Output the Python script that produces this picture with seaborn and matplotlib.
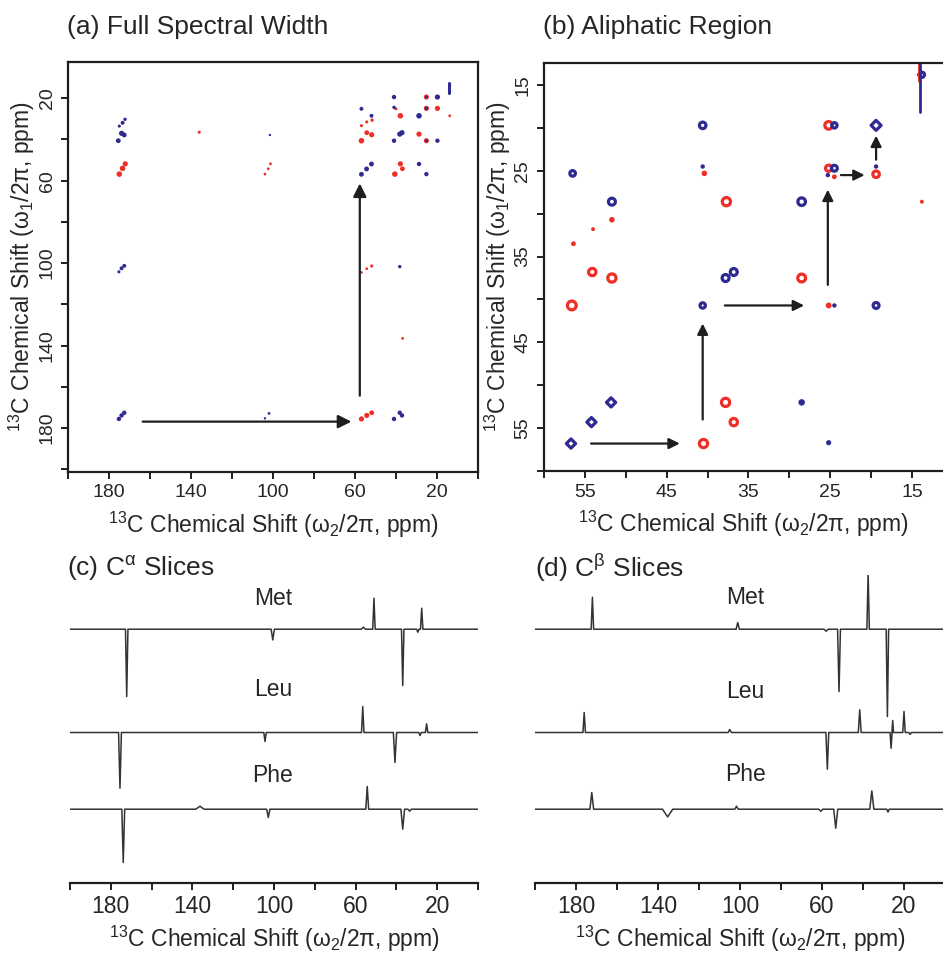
import numpy as np
import pandas as pd
import matplotlib
matplotlib.use("Agg")
import matplotlib.pyplot as plt
import seaborn as sns
from matplotlib.ticker import FixedLocator, NullFormatter

# ---------- data: panel (a) cross peaks (w2 ppm, w1 ppm, sign, marker size) ----------
a_x = [172.2, 173.5, 175.1, 136.1, 101.3, 102.4, 104.0,
       51.7, 54.3, 56.9, 54.3, 51.9, 56.9, 40.1, 37.9, 37.9, 36.9, 40.6,
       28.8, 25.2, 25.2, 25.2, 19.8, 13.8,
       56.9, 54.3, 51.9, 36.8, 51.9, 54.3, 56.9,
       172.3, 173.5, 175.1, 174.0, 172.7, 175.6, 101.6,
       56.9, 52.0, 52.0, 54.4, 56.9, 41.0, 41.0, 38.2, 37.1, 41.0,
       28.8, 28.8, 25.2, 19.8, 19.8, 25.2, 25.2, 25.2,
       172.7, 174.0, 175.3, 38.2,
       172.7, 174.0, 175.3, 102.0, 104.0, 41.0, 38.2, 37.1]
a_y = [51.8, 54.0, 56.8, 36.5, 51.8, 54.2, 56.8,
       30.6, 31.5, 33.3, 36.7, 37.7, 40.6, 25.1, 28.5, 51.8, 54.2, 56.8,
       37.4, 40.6, 19.4, 24.9, 24.9, 28.5,
       104.5, 102.7, 101.4, 136.5, 172.6, 173.9, 175.6,
       30.2, 31.9, 33.5, 37.0, 37.8, 40.6, 37.8,
       25.1, 28.5, 51.9, 54.3, 56.9, 19.4, 24.4, 37.4, 36.7, 40.6,
       28.5, 51.9, 56.8, 19.4, 40.6, 19.4, 24.9, 40.6,
       101.3, 102.5, 104.2, 101.7,
       172.6, 173.9, 175.6, 172.9, 175.3, 175.6, 172.6, 173.9]
a_sign = ["pos"] * 31 + ["neg"] * 37
a_size = [14, 16, 16, 5, 4, 4, 4,
          6, 5, 5, 12, 14, 16, 5, 16, 14, 12, 16,
          14, 14, 14, 14, 14, 4,
          4, 4, 5, 4, 12, 14, 14,
          6, 8, 5, 14, 12, 12, 3,
          8, 8, 12, 12, 12, 10, 6, 14, 14, 10,
          16, 10, 10, 14, 10, 4, 6, 4,
          8, 8, 5, 6,
          10, 10, 10, 4, 3, 10, 10, 10]
a_diag_x = [14.1, 14.1]          # diagonal streak at top right
a_diag_y = [12.7, 17.5]
a_arrows = [((163.7, 176.9), (61.8, 176.9)), ((57.7, 164.3), (57.7, 61.3))]

# ---------- data: panel (b) aliphatic region ----------
b_x = [54.1, 51.7, 37.7, 28.5, 25.2, 25.2, 19.4, 56.6, 40.5, 37.8, 36.8,
       51.7, 54.0, 56.4, 40.4, 24.5, 25.2, 13.8, 14.2,
       56.5, 51.7, 40.6, 28.5, 24.5, 24.5, 40.6, 19.4, 37.8, 36.8, 13.8,
       19.4, 51.8, 54.2, 56.7,
       40.6, 25.3, 19.4, 25.2, 24.5, 28.5]
b_y = [36.8, 37.5, 28.6, 37.5, 19.7, 24.7, 25.4, 40.7, 56.8, 52.0, 54.3,
       30.7, 31.8, 33.5, 25.3, 25.7, 40.7, 28.6, 13.8,
       25.3, 28.6, 19.7, 28.6, 19.7, 24.7, 40.7, 40.7, 37.5, 36.8, 13.8,
       19.7, 52.0, 54.3, 56.8,
       24.5, 25.5, 24.5, 56.7, 40.7, 52.0]
b_sign = ["pos"] * 19 + ["neg"] * 21
b_kind = (["ring"] * 11 + ["dot"] * 8 + ["ring"] * 11 + ["diamond"] * 4
          + ["dot"] * 6)
b_size = [28, 35, 35, 32, 30, 20, 22, 40, 35, 35, 28,
          16, 8, 12, 16, 12, 18, 8, 8,
          16, 25, 22, 30, 15, 18, 15, 18, 25, 25, 14,
          26, 22, 22, 22,
          10, 10, 10, 14, 10, 22]
b_diag_x = [14.0, 14.0]
b_diag_y = [12.4, 18.1]
b_arrows = [((54.25, 56.8), (43.4, 56.8)), ((40.6, 54.0), (40.6, 42.8)),
            ((37.9, 40.7), (28.2, 40.7)), ((25.3, 38.3), (25.3, 27.2)),
            ((23.7, 25.5), (20.8, 25.5)), ((19.4, 23.7), (19.4, 20.9))]

# ---------- data: 1D slices (ppm, intensity, half width) ----------
slice_names = ["Met", "Leu", "Phe"]
slice_offset = [253.5, 150.2, 73.5]

ca_ppm = [[172.2, 100.6, 56.2, 51.0, 36.9, 29.5, 27.6],
          [175.5, 104.4, 56.5, 40.7, 28.4, 25.2],
          [173.9, 136.3, 102.8, 54.3, 36.9, 33.5]]
ca_int = [[-67.4, -10.7, 2, 31, -56.4, -3, 21],
          [-55.7, -9, 26, -30, -3, 8.7],
          [-53.3, 3, -8.3, 22.7, -20, -2]]
ca_wid = [[0.6, 0.8, 1.0, 0.6, 0.6, 0.6, 0.6],
          [0.7, 0.6, 0.6, 0.8, 0.6, 0.6],
          [0.7, 2.0, 0.8, 0.7, 0.9, 0.8]]

cb_ppm = [[172.0, 101.1, 58.0, 51.7, 37.5, 28.1],
          [176.0, 105.0, 57.4, 41.6, 26.3, 25.5, 20.0, 17.0],
          [172.3, 135.3, 101.7, 60.6, 53.3, 35.7, 27.8]]
cb_int = [[32, 6.7, -2, -62.4, 56, -87.4],
          [20, 3, -36.7, 22.7, -15.7, 12, 21, -2],
          [16.7, -7.7, 3, -2, -19, 18.3, -3]]
cb_wid = [[0.6, 0.8, 1.0, 0.7, 0.6, 0.6],
          [0.6, 0.8, 0.7, 0.7, 0.5, 0.4, 0.6, 0.6],
          [0.9, 2.5, 0.8, 1.0, 1.0, 1.0, 0.6]]

XLAB = r"$^{13}$C Chemical Shift (ω$_2$/2π, ppm)"
YLAB = r"$^{13}$C Chemical Shift (ω$_1$/2π, ppm)"

RED = "#ef2f27"
BLUE = "#2e2a92"
INK = "#1e1e1e"

sns.set_style("ticks")
plt.rcParams["font.family"] = ["Liberation Sans", "DejaVu Sans"]
plt.rcParams["mathtext.fontset"] = "custom"
plt.rcParams["mathtext.rm"] = "Liberation Sans"
plt.rcParams["mathtext.it"] = "Liberation Sans:italic"
plt.rcParams["mathtext.bf"] = "Liberation Sans:bold"

W, H = 943, 961
fig = plt.figure(figsize=(W / 100, H / 100), dpi=100)


def px_axes(left, top, right, bottom):
    return fig.add_axes([left / W, 1 - bottom / H, (right - left) / W, (bottom - top) / H])


def set_ticks(ax, axis, labeled, unlabeled, size):
    target = ax.xaxis if axis == "x" else ax.yaxis
    target.set_major_locator(FixedLocator(labeled))
    target.set_minor_locator(FixedLocator(unlabeled))
    target.set_minor_formatter(NullFormatter())
    ax.tick_params(axis=axis, which="both", direction="out", length=5, width=1.4,
                   color=INK, labelsize=size, pad=4)


def style_box(ax):
    for s in ax.spines.values():
        s.set_linewidth(1.6)
        s.set_color(INK)


def draw_arrows(ax, arrows, scale):
    for start, end in arrows:
        ax.annotate("", xy=end, xytext=start,
                    arrowprops=dict(arrowstyle="-|>", color=INK, lw=1.6,
                                    mutation_scale=scale, shrinkA=0, shrinkB=0))


# --- (a) full spectral width ---
ax_a = px_axes(68.3, 62, 478, 471.7)
a_df = pd.DataFrame({"x": a_x, "y": a_y, "sign": a_sign, "size": a_size})
sns.lineplot(x=a_diag_x, y=a_diag_y, color=BLUE, lw=2.2, sort=False,
             estimator=None, ax=ax_a)
for sign, col in [("pos", RED), ("neg", BLUE)]:
    sub = a_df[a_df["sign"] == sign]
    sns.scatterplot(x=sub["x"], y=sub["y"], s=sub["size"].to_list(), color=col,
                    edgecolor="none", linewidth=0, legend=False, ax=ax_a)
draw_arrows(ax_a, a_arrows, 20)
ax_a.set_xlim(200, 0)
ax_a.set_ylim(201.2, 2.4)
set_ticks(ax_a, "x", [180, 140, 100, 60, 20], list(range(0, 201, 40)), 14)
set_ticks(ax_a, "y", [20, 60, 100, 140, 180], list(range(0, 201, 40)), 14)
ax_a.tick_params(axis="y", labelrotation=90)
for t in ax_a.get_yticklabels():
    t.set_va("center")
ax_a.set_xlabel(XLAB, fontsize=16.5, labelpad=6)
ax_a.set_ylabel(YLAB, fontsize=16.5)
ax_a.yaxis.set_label_coords(-0.076, 0.5)
style_box(ax_a)

# --- (b) aliphatic region ---
ax_b = px_axes(544, 63, 943, 471)
b_df = pd.DataFrame({"x": b_x, "y": b_y, "sign": b_sign, "kind": b_kind, "size": b_size})
sns.lineplot(x=[14.1, 14.1], y=[12.4, 14.5], color=RED, lw=2.0, sort=False,
             estimator=None, ax=ax_b)
sns.lineplot(x=b_diag_x, y=b_diag_y, color=BLUE, lw=2.0, sort=False,
             estimator=None, ax=ax_b)
for sign, col in [("pos", RED), ("neg", BLUE)]:
    for kind, mk in [("ring", "o"), ("diamond", "D"), ("dot", "o")]:
        sub = b_df[(b_df["sign"] == sign) & (b_df["kind"] == kind)]
        if sub.empty:
            continue
        if kind == "dot":
            sns.scatterplot(x=sub["x"], y=sub["y"], s=sub["size"].to_list(), color=col,
                            marker=mk, edgecolor="none", linewidth=0,
                            legend=False, ax=ax_b)
        else:
            sns.scatterplot(x=sub["x"], y=sub["y"], s=sub["size"].to_list(), color=col,
                            marker=mk, facecolor="none", edgecolor=col,
                            linewidth=2.3, legend=False, ax=ax_b)
draw_arrows(ax_b, b_arrows, 16)
ax_b.set_xlim(60, 11.22)
ax_b.set_ylim(60.0, 12.43)
set_ticks(ax_b, "x", [55, 45, 35, 25, 15], [60, 50, 40, 30, 20], 14)
set_ticks(ax_b, "y", [15, 25, 35, 45, 55], [20, 30, 40, 50, 60], 14)
ax_b.tick_params(axis="y", labelrotation=90)
for t in ax_b.get_yticklabels():
    t.set_va("center")
ax_b.set_xlabel(XLAB, fontsize=16.5, labelpad=6)
ax_b.set_ylabel(YLAB, fontsize=16.5)
ax_b.yaxis.set_label_coords(-0.077, 0.5)
style_box(ax_b)
ax_b.spines["right"].set_visible(False)


# --- (c), (d) slices ---
def stick_trace(ppm, inten, wid, offset):
    xs, ys = [200.0], [offset]
    for p, h, w in sorted(zip(ppm, inten, wid), key=lambda t: -t[0]):
        xs += [p + w, p, p - w]
        ys += [offset, offset + h, offset]
    xs.append(0.0)
    ys.append(offset)
    return xs, ys


def slice_panel(ax, ppm_sets, int_sets, wid_sets, label_x, label_ys):
    for ppm, inten, wid, off in zip(ppm_sets, int_sets, wid_sets, slice_offset):
        xs, ys = stick_trace(ppm, inten, wid, off)
        sns.lineplot(x=xs, y=ys, sort=False, estimator=None, color="#333333",
                     lw=1.1, ax=ax)
    for name, ly in zip(slice_names, label_ys):
        ax.text(label_x, ly, name, fontsize=16.5, ha="center", va="center")
    ax.set_xlim(200, 0)
    ax.set_ylim(0, 307.7)
    for side in ["left", "top", "right"]:
        ax.spines[side].set_visible(False)
    ax.spines["bottom"].set_linewidth(1.6)
    ax.spines["bottom"].set_color(INK)
    ax.set_yticks([])
    set_ticks(ax, "x", [180, 140, 100, 60, 20], list(range(0, 201, 40)), 16.5)
    ax.set_xlabel(XLAB, fontsize=16.5, labelpad=4)


ax_c = px_axes(70, 575, 478, 882.7)
slice_panel(ax_c, ca_ppm, ca_int, ca_wid, 100.5, [284, 193, 107.5])
ax_d = px_axes(535, 575, 945, 882.7)
slice_panel(ax_d, cb_ppm, cb_int, cb_wid, 97.5, [285, 191, 108.5])

# --- panel titles ---
fig.text(67 / W, 1 - 27 / H, "(a) Full Spectral Width", fontsize=19, va="center")
fig.text(543 / W, 1 - 27 / H, "(b) Aliphatic Region", fontsize=19, va="center")
fig.text(67 / W, 1 - 568 / H, r"(c) C$^{\mathrm{α}}$ Slices", fontsize=19, va="center")
fig.text(535 / W, 1 - 568 / H, r"(d) C$^{\mathrm{β}}$ Slices", fontsize=19, va="center")

fig.savefig("out.png", dpi=100)
plt.close(fig)
